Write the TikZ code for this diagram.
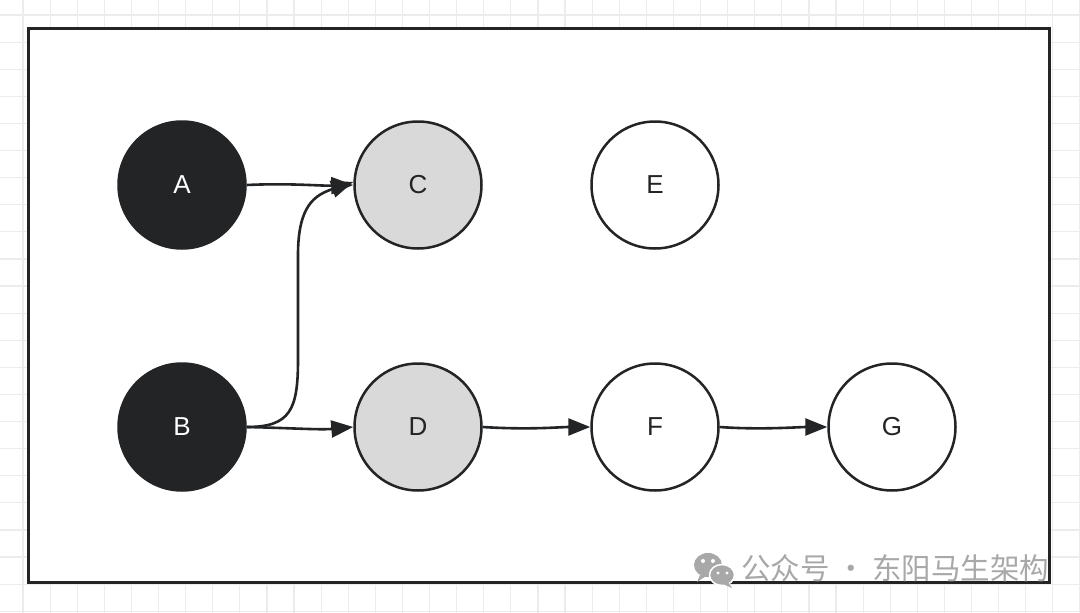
\documentclass[tikz,border=0pt]{standalone}
\usepackage{fontspec}
\setsansfont{Liberation Sans}
\newfontfamily\cjk{Noto Sans CJK SC}
\usetikzlibrary{arrows.meta}
\definecolor{ink}{HTML}{222426}
\definecolor{lightfill}{HTML}{D9D9D9}
\definecolor{gridc}{HTML}{ECECEC}
\definecolor{wm}{HTML}{A8A8A8}
\tikzset{
  vtx/.style={circle, minimum size=127pt, inner sep=0pt, line width=2.5pt, draw=ink, font=\fontsize{26}{26}\sffamily},
  darkv/.style={vtx, fill=ink, text=white},
  grayv/.style={vtx, fill=lightfill, text=ink},
  whitev/.style={vtx, fill=white, text=ink},
  edge/.style={line width=2.6pt, draw=ink, -{Triangle[length=22pt, width=17pt]}},
}
\begin{document}
\begin{tikzpicture}[x=1pt,y=-1pt]
\useasboundingbox (0,0) rectangle (1080,613);
\fill[white] (0,0) rectangle (1080,613);
% grid
\foreach \i in {0,...,39} { \draw[gridc, line width=1.2pt] ({23+27.1*\i},0) -- ({23+27.1*\i},613); }
\foreach \j in {0,...,22} { \draw[gridc, line width=1.2pt] (0,{15+27.1*\j}) -- (1080,{15+27.1*\j}); }
% frame
\draw[ink, line width=3pt, fill=white] (28,28) rectangle (1049,582);
% nodes
\node[darkv]  (A) at (182,185) {A};
\node[grayv]  (C) at (418,185) {C};
\node[whitev] (E) at (655,185) {E};
\node[darkv]  (B) at (182,427) {B};
\node[grayv]  (D) at (418,427) {D};
\node[whitev] (F) at (655,427) {F};
\node[whitev] (G) at (892,427) {G};
% edges
\draw[edge] (A.east) .. controls (290,183) and (320,186) .. (C.west);
\draw[edge] (B.east) .. controls (290,427) and (298,410) .. (298,360) -- (298,255) .. controls (298,205) and (315,195) .. ([yshift=3pt]C.west);
\draw[edge] (B.east) .. controls (290,428) and (320,430) .. (D.west);
\draw[edge] (D.east) .. controls (530,430) and (560,427) .. (F.west);
\draw[edge] (F.east) .. controls (760,430) and (800,427) .. (G.west);
% watermark
\fill[wm] (708,565) ellipse [x radius=14pt, y radius=12pt];
\fill[wm] (700,575) -- (697,582) -- (706,576) -- cycle;
\fill[white] (703,561) circle (2pt) (713,561) circle (2pt);
\fill[wm, draw=white, line width=1.5pt] (722,575) ellipse [x radius=12.5pt, y radius=10.5pt];
\fill[wm] (728,582) -- (732,588) -- (723,584) -- cycle;
\fill[white] (718,573) circle (1.6pt) (727,573) circle (1.6pt);
\node[anchor=west, inner sep=0pt, text=wm, font=\cjk\fontsize{29.5}{29.5}\selectfont] (wmtext) at (741,568) {公众号 · 东阳马生架构};
\end{tikzpicture}
\end{document}
